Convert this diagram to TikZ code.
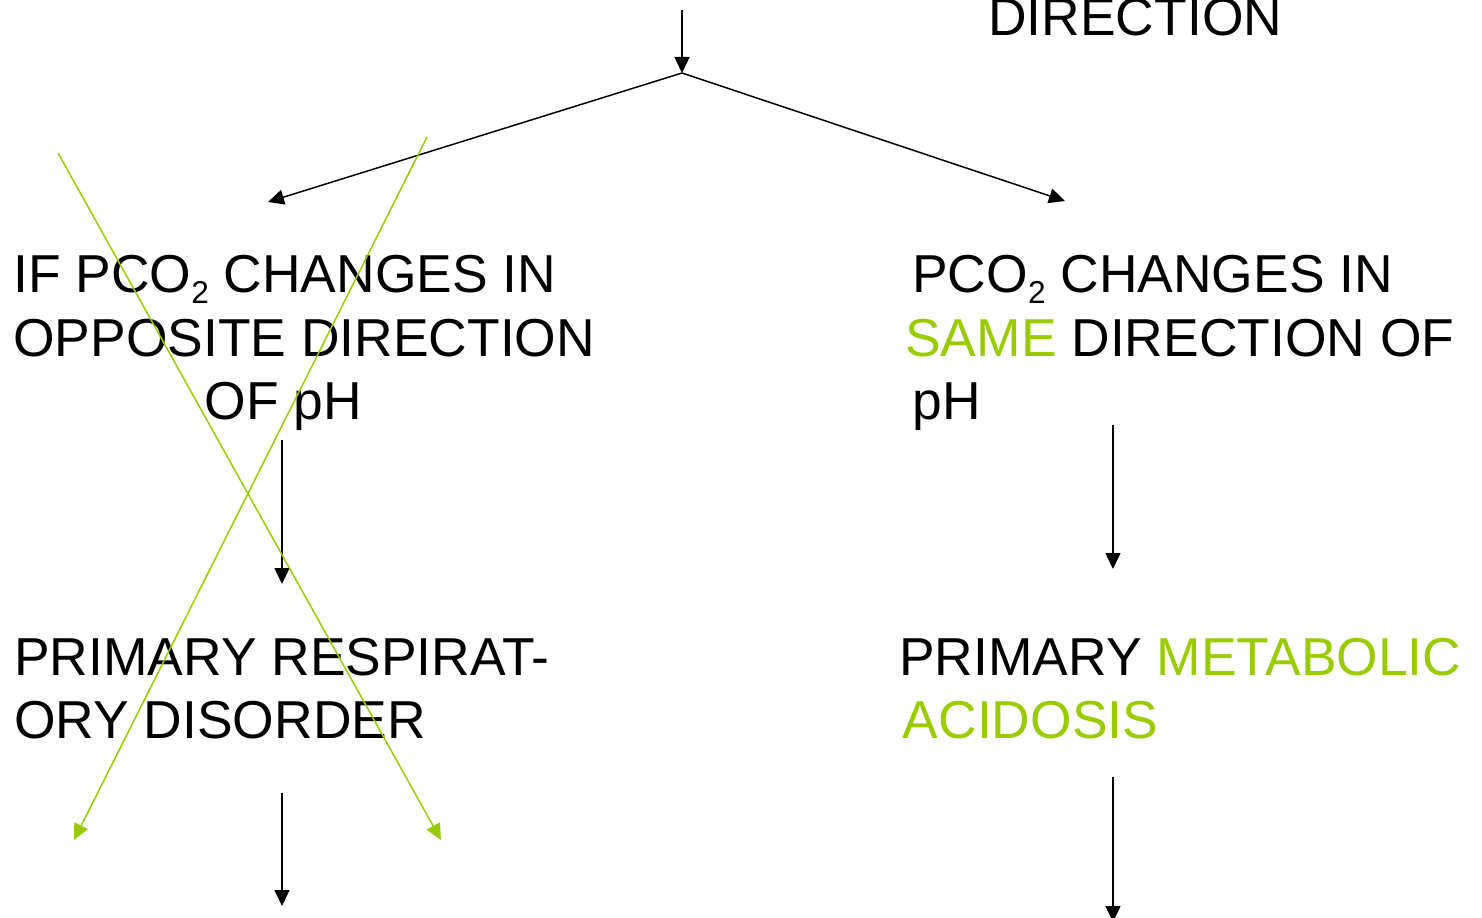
\documentclass[tikz,border=0pt]{standalone}
\usepackage{fontspec}
\setmainfont{Liberation Sans}
\usetikzlibrary{arrows.meta}
\definecolor{slidegreen}{HTML}{99CC00}
\newcommand{\pcotwo}{PCO\raisebox{-6.4pt}{\fontsize{18}{18}\selectfont 2}}
\tikzset{
  slidetext/.style={anchor=base west, inner sep=0pt, align=left,
    font=\fontsize{30.4}{36.4}\selectfont},
  flow/.style={->, line width=0.85pt},
  cross/.style={->, line width=0.85pt, slidegreen}
}
\begin{document}
\begin{tikzpicture}[x=0.02cm, y=-0.02cm, >={Triangle[length=0.32cm,width=0.3cm]}]
    \useasboundingbox (0,0) rectangle (1482,918);

    % Texts (anchored at the baseline of the last line)
    \node[slidetext] (dirtop) at (988,36) {DIRECTION};
    \node[slidetext] (oppos) at (13,420) {IF \pcotwo{} CHANGES IN\\
      OPPOSITE DIRECTION\\
      \hspace*{109pt}OF pH};
    \node[slidetext] (same) at (912,420) {\pcotwo{} CHANGES IN\\
      \hspace*{-4pt}\textcolor{slidegreen}{SAME} DIRECTION OF\\
      pH};
    \node[slidetext] (resp) at (14,739) {PRIMARY RESPIRAT-\\ORY DISORDER};
    \node[slidetext] (metab) at (899,739) {PRIMARY \textcolor{slidegreen}{METABOLIC}\\
      \hspace*{2pt}\textcolor{slidegreen}{ACIDOSIS}};

    % Branch
    \coordinate (topin) at (682,10);
    \coordinate (split) at (682,73);
    \coordinate (lefttip) at (268,202);
    \coordinate (righttip) at (1065,201);
    \draw[flow] (topin) -- (split);
    \draw[flow] (split) -- (lefttip);
    \draw[flow] (split) -- (righttip);

    % Down arrows
    \coordinate (opposout) at (282,440);
    \coordinate (respin) at (282,584);
    \coordinate (respout) at (282,793);
    \coordinate (respend) at (282,906);
    \coordinate (sameout) at (1113,425);
    \coordinate (metabin) at (1113,569);
    \coordinate (metabout) at (1113,777);
    \coordinate (metabend) at (1113,922);
    \draw[flow] (opposout) -- (respin);
    \draw[flow] (respout) -- (respend);
    \draw[flow] (sameout) -- (metabin);
    \draw[flow] (metabout) -- (metabend);

    % Crossed out
    \coordinate (crossa) at (58,153);
    \coordinate (crossb) at (441,840);
    \coordinate (crossc) at (427,137);
    \coordinate (crossd) at (74,840);
    \draw[cross] (crossa) -- (crossb);
    \draw[cross] (crossc) -- (crossd);
\end{tikzpicture}
\end{document}
